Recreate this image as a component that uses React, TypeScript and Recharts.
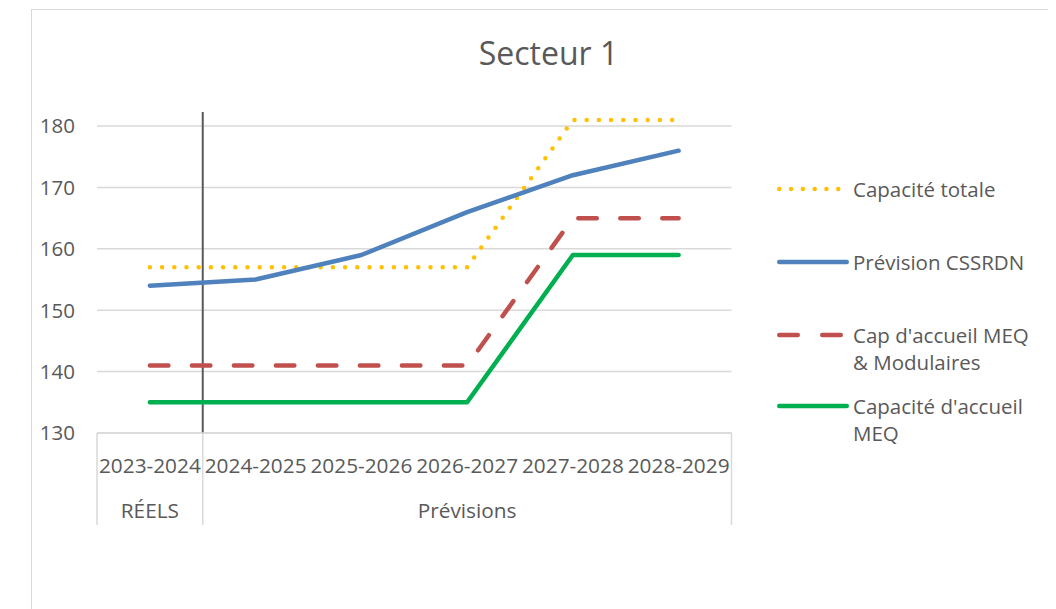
import React from 'react';
import { LineChart, Line, XAxis, YAxis, CartesianGrid, ReferenceLine, Legend } from 'recharts';

const categories = ['2023-2024', '2024-2025', '2025-2026', '2026-2027', '2027-2028', '2028-2029'];
const capaciteTotale = [157, 157, 157, 157, 181, 181];
const previsionCSSRDN = [154, 155, 159, 166, 172, 176];
const capMeqModulaires = [141, 141, 141, 141, 165, 165];
const capaciteMeq = [135, 135, 135, 135, 159, 159];
const yTicks = [130, 140, 150, 160, 170, 180];
const groupLabels = ['RÉELS', 'Prévisions'];
const groupStarts = [-0.5, 0.5];
const groupEnds = [0.5, 5.5];
const seriesNames = ['Capacité totale', 'Prévision CSSRDN', "Cap d'accueil MEQ & Modulaires", "Capacité d'accueil MEQ"];
const legendLines = [['Capacité totale'], ['Prévision CSSRDN'], ["Cap d'accueil MEQ", '& Modulaires'], ["Capacité d'accueil", 'MEQ']];
const title = 'Secteur 1';

const data = categories.map((c, i) => ({
  idx: i,
  category: c,
  total: capaciteTotale[i],
  prev: previsionCSSRDN[i],
  mod: capMeqModulaires[i],
  meq: capaciteMeq[i],
}));

const seriesStyles = [
  { key: 'total', color: '#FFC000', dash: '0 12.2', legendDash: '0 11.8' },
  { key: 'prev', color: '#4F81BD', dash: undefined, legendDash: undefined },
  { key: 'mod', color: '#C0504D', dash: '18.5 23.5', legendDash: '18.5 24.5' },
  { key: 'meq', color: '#00B050', dash: undefined, legendDash: undefined },
];

const FONT = "'Open Sans', sans-serif";
const TEXT = '#595959';
const GRID = '#d9d9d9';

const CategoryTick = (props: any) => {
  const { x, y, payload } = props;
  const i = payload.value;
  const gi = groupStarts.findIndex((s, k) => (s + groupEnds[k]) / 2 === i);
  return (
    <g>
      <text x={x} y={y} dy={40} textAnchor="middle" fill={TEXT} fontSize={20.8} fontFamily={FONT}>
        {categories[i]}
      </text>
      {gi >= 0 && (
        <text x={x} y={y} dy={85} textAnchor="middle" fill={TEXT} fontSize={20.8} fontFamily={FONT}>
          {groupLabels[gi]}
        </text>
      )}
    </g>
  );
};

const itemTops = [5.5, 78.5, 151.5, 222.5];

const renderLegend = () => (
  <div style={{ position: 'relative', width: 280, height: 290, fontFamily: FONT }}>
    {seriesStyles.map((s, i) => (
      <div key={s.key} style={{ position: 'absolute', left: 0, top: itemTops[i], width: 280 }}>
        <svg width={72} height={10} style={{ position: 'absolute', left: 0, top: 8.75 }}>
          <line
            x1={2.25}
            x2={69.75}
            y1={5}
            y2={5}
            stroke={s.color}
            strokeWidth={4.5}
            strokeLinecap="round"
            strokeDasharray={s.legendDash}
          />
        </svg>
        <div
          style={{
            position: 'absolute',
            left: 76,
            top: 0,
            fontSize: 20.5,
            lineHeight: '27.5px',
            color: TEXT,
            whiteSpace: 'nowrap',
          }}
        >
          {legendLines[i].map((l, k) => (
            <div key={k}>{l}</div>
          ))}
        </div>
      </div>
    ))}
  </div>
);

const boundaries = Array.from(new Set([...groupStarts, ...groupEnds]));

export default function App() {
  return (
    <div style={{ position: 'relative', width: 1048, height: 601, overflow: 'hidden', fontFamily: FONT }}>
      <div
        style={{
          position: 'absolute',
          left: 23,
          top: 0.5,
          width: 1100,
          height: 700,
          border: `1.5px solid ${GRID}`,
          boxSizing: 'border-box',
        }}
      />
      <div
        style={{
          position: 'absolute',
          left: 340.5,
          top: 28.6,
          width: 400,
          textAlign: 'center',
          fontSize: 32,
          lineHeight: '32px',
          color: TEXT,
        }}
      >
        {title}
      </div>
      <div style={{ position: 'absolute', left: 0, top: 0 }}>
        <LineChart width={1048} height={601} data={data} margin={{ top: 104, right: 324.5, bottom: 76, left: 0 }}>
          <CartesianGrid vertical={false} horizontalValues={yTicks} stroke={GRID} strokeWidth={1.5} />
          <XAxis
            type="number"
            dataKey="idx"
            domain={[-0.5, 5.5]}
            ticks={[0, 1, 2, 3, 4, 5]}
            interval={0}
            tick={<CategoryTick />}
            tickLine={false}
            tickSize={0}
            tickMargin={0}
            axisLine={{ stroke: GRID, strokeWidth: 1.5 }}
            height={100}
            allowDataOverflow
          />
          <YAxis
            type="number"
            domain={[130, 182.3]}
            ticks={yTicks}
            interval={0}
            axisLine={false}
            tickLine={false}
            width={89}
            tickMargin={16}
            tick={{ fill: TEXT, fontSize: 20.5, fontFamily: FONT }}
            allowDataOverflow
          />
          {boundaries.map((b) => (
            <ReferenceLine
              key={'b' + b}
              segment={[
                { x: b, y: 130 },
                { x: b, y: 115 },
              ]}
              ifOverflow="visible"
              stroke={GRID}
              strokeWidth={1.5}
            />
          ))}
          <ReferenceLine x={groupEnds[0]} stroke="#595959" strokeWidth={2} />
          {seriesStyles.map((s, i) => (
            <Line
              key={s.key}
              type="linear"
              dataKey={s.key}
              name={seriesNames[i]}
              stroke={s.color}
              strokeWidth={4.5}
              strokeDasharray={s.dash}
              strokeLinecap="round"
              strokeLinejoin="round"
              dot={false}
              activeDot={false}
              isAnimationActive={false}
            />
          ))}
          <Legend
            layout="vertical"
            align="center"
            verticalAlign="middle"
            wrapperStyle={{ left: 769, top: 162, width: 280, height: 290 }}
            content={renderLegend}
          />
        </LineChart>
      </div>
    </div>
  );
}
